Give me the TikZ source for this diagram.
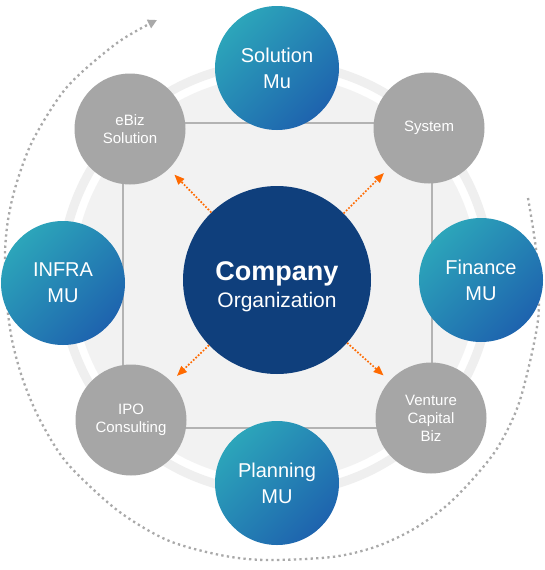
\documentclass[tikz,border=0pt]{standalone}
\usepackage{fontspec}
\setmainfont{Liberation Sans}
\usetikzlibrary{arrows.meta}
\definecolor{ringgray}{HTML}{EFEFEF}
\definecolor{diskgray}{HTML}{F2F2F2}
\definecolor{sqline}{HTML}{B3B3B3}
\definecolor{circgray}{HTML}{A6A6A6}
\definecolor{navy}{HTML}{0F3F7C}
\definecolor{tealA}{HTML}{2CA5BA}
\definecolor{blueB}{HTML}{1E63AE}
\definecolor{arcgray}{HTML}{A9A9A9}
\definecolor{orangeA}{HTML}{FF6A00}
\begin{document}
\begin{tikzpicture}[x=1pt,y=-1pt,
  bluecirc/.style={circle, inner sep=0pt, minimum size=124pt, top color=tealA, bottom color=blueB, shading angle=45, text=white, align=center, font=\fontsize{20}{26}\selectfont},
  graycirc/.style={circle, inner sep=0pt, minimum size=111pt, fill=circgray, text=white, align=center, font=\fontsize{15}{18}\selectfont},
  maincirc/.style={circle, inner sep=0pt, minimum size=188pt, fill=navy},
  maintext/.style={text=white, align=center, font=\fontsize{21}{27}\selectfont},
  orangearrow/.style={draw=orangeA, line width=1.7pt, dash pattern=on 1.7pt off 1.7pt, -{Triangle[length=10pt,width=8pt]}, shorten >=8pt},
  spiral/.style={draw=arcgray, line width=2.3pt, dash pattern=on 2.3pt off 3.3pt, -{Triangle[length=9pt,width=9pt]}},
  squareline/.style={draw=sqline, line width=2.4pt}
]
\useasboundingbox (0,0) rectangle (545,570);
\fill[white] (0,0) rectangle (545,570);
% background ring
\coordinate (rc) at (276,278);
\fill[diskgray] (rc) circle[radius=202pt];
\draw[ringgray, line width=9pt] (rc) circle[radius=214.5pt];
% square
\coordinate (sqA) at (123,123);
\coordinate (sqC) at (432,428);
\draw[squareline] (sqA) rectangle (sqC);
% dotted outer spiral
\draw[spiral] plot[smooth] coordinates {(528,198) (537,258) (538,320) (520,400) (498,447) (472,480) (445,507) (412,530) (375,547) (332,557) (265,560) (220,555) (167,540) (117,510) (67,463) (40,420) (23,380) (12,340) (6,295) (5,253) (8,220) (16,185) (33,140) (67,87) (117,43) (157,20)};
% circles
\node[graycirc] (ebiz) at (130,129) {eBiz\\Solution};
\node[graycirc] (system) at (429,128) {System};
\node[graycirc] (ipo) at (131,420) {IPO\\Consulting};
\node[graycirc] (venture) at (431,418) {Venture\\Capital\\Biz};
\node[bluecirc] (solution) at (277,68) {Solution\\Mu};
\node[bluecirc] (infra) at (63,283) {INFRA\\MU};
\node[bluecirc] (finance) at (481,280) {Finance\\MU};
\node[bluecirc] (planning) at (277,483) {Planning\\MU};
\node[maincirc] (main) at (277,280) {};
\node[maintext] (maintxt) at (277,287) {{\fontsize{27}{27}\selectfont\bfseries Company}\\Organization};
% orange arrows
\draw[orangearrow] (main) -- (ebiz);
\draw[orangearrow] (main) -- (system);
\draw[orangearrow] (main) -- (ipo);
\draw[orangearrow] (main) -- (venture);
\end{tikzpicture}
\end{document}
